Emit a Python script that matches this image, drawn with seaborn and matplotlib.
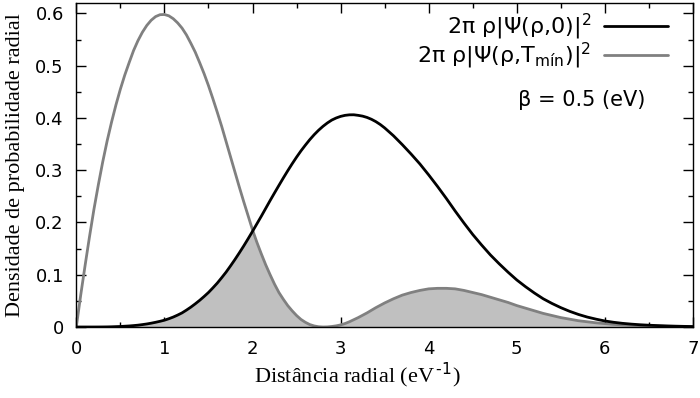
import numpy as np
import pandas as pd
import matplotlib
matplotlib.use("Agg")
import matplotlib.pyplot as plt
import seaborn as sns
from matplotlib.ticker import MultipleLocator

# radial distance samples (eV^-1)
rho = [0.0, 0.05, 0.1, 0.15, 0.2, 0.25, 0.3, 0.35, 0.4, 0.45,
       0.5, 0.55, 0.6, 0.65, 0.7, 0.75, 0.8, 0.85, 0.9, 0.95,
       1.0, 1.05, 1.1, 1.15, 1.2, 1.25, 1.3, 1.35, 1.4, 1.45,
       1.5, 1.55, 1.6, 1.65, 1.7, 1.75, 1.8, 1.85, 1.9, 1.95,
       2.0, 2.05, 2.1, 2.15, 2.2, 2.25, 2.3, 2.35, 2.4, 2.45,
       2.5, 2.55, 2.6, 2.65, 2.7, 2.75, 2.8, 2.85, 2.9, 2.95,
       3.0, 3.05, 3.1, 3.15, 3.2, 3.25, 3.3, 3.35, 3.4, 3.45,
       3.5, 3.6, 3.7, 3.8, 3.9,
       4.0, 4.1, 4.2, 4.3, 4.4, 4.5, 4.6, 4.7, 4.8, 4.9,
       5.0, 5.1, 5.2, 5.3, 5.4, 5.5, 5.6, 5.7, 5.8, 5.9,
       6.0, 6.1, 6.2, 6.3, 6.4, 6.5, 6.6, 6.7, 6.8, 6.9, 7.0]

# 2*pi*rho*|Psi(rho,0)|^2  (black)
dens_t0 = [0.0, 0.0, 0.0, 0.0, 0.0, 0.00003, 0.0001, 0.0002, 0.0004, 0.0007,
           0.001, 0.0015, 0.002, 0.0027, 0.0035, 0.0046, 0.0058, 0.0073, 0.009, 0.0109,
           0.013, 0.0158, 0.019, 0.0228, 0.027, 0.0323, 0.038, 0.0443, 0.051, 0.0583,
           0.066, 0.0748, 0.084, 0.0943, 0.105, 0.1168, 0.129, 0.1418, 0.155, 0.1688,
           0.183, 0.1975, 0.212, 0.227, 0.242, 0.2566, 0.271, 0.2852, 0.299, 0.3123,
           0.325, 0.337, 0.348, 0.3585, 0.368, 0.3765, 0.384, 0.3905, 0.396, 0.4,
           0.403, 0.405, 0.406, 0.4061, 0.405, 0.4035, 0.401, 0.3975, 0.393, 0.3875,
           0.381, 0.366, 0.349, 0.331, 0.312,
           0.291, 0.269, 0.246, 0.222, 0.199, 0.177, 0.157, 0.138, 0.121, 0.105,
           0.090, 0.077, 0.065, 0.054, 0.045, 0.037, 0.030, 0.024, 0.019, 0.015,
           0.0115, 0.009, 0.007, 0.0055, 0.0043, 0.0034, 0.0027, 0.0021, 0.0016, 0.0012, 0.0009]

# 2*pi*rho*|Psi(rho,T_min)|^2  (gray)
dens_tmin = [0.0, 0.061, 0.118, 0.173, 0.225, 0.272, 0.316, 0.356, 0.392, 0.425,
             0.455, 0.482, 0.506, 0.529, 0.548, 0.564, 0.577, 0.587, 0.594, 0.5976,
             0.598, 0.5955, 0.590, 0.582, 0.572, 0.559, 0.543, 0.526, 0.506, 0.485,
             0.462, 0.437, 0.411, 0.384, 0.355, 0.326, 0.297, 0.268, 0.240, 0.213,
             0.186, 0.162, 0.140, 0.119, 0.100, 0.082, 0.066, 0.053, 0.041, 0.031,
             0.022, 0.0145, 0.009, 0.0047, 0.002, 0.0005, 0.0, 0.0002, 0.001, 0.0022,
             0.004, 0.0066, 0.010, 0.014, 0.018, 0.0225, 0.027, 0.032, 0.037, 0.0415,
             0.046, 0.054, 0.061, 0.066, 0.070,
             0.073, 0.074, 0.074, 0.073, 0.070, 0.066, 0.062, 0.057, 0.052, 0.047,
             0.041, 0.036, 0.031, 0.026, 0.022, 0.018, 0.015, 0.012, 0.010, 0.008,
             0.0065, 0.005, 0.004, 0.0033, 0.0026, 0.002, 0.0016, 0.0012, 0.0009, 0.0006, 0.0004]

label_t0 = r'2π ρ|Ψ(ρ,0)|$^2$'
label_tmin = r'2π ρ|Ψ(ρ,T$_{\mathrm{mín}}$)|$^2$'
beta_text = 'β = 0.5 (eV)'
xlabel = 'Distância radial (eV$^{\\,\\text{-}1}$)'
ylabel = 'Densidade de probabilidade radial'

sns.set_style("ticks")
plt.rcParams['font.family'] = ['DejaVu Sans']
plt.rcParams['mathtext.fontset'] = 'dejavusans'
for k in ['text.color', 'axes.labelcolor', 'xtick.color', 'ytick.color', 'axes.edgecolor']:
    plt.rcParams[k] = 'black'

fig = plt.figure(figsize=(7.0, 3.98), dpi=100)
ax = fig.add_axes([76.3/700, 1-327/398, (693-76.3)/700, 324/398])

df = pd.DataFrame({'rho': rho, 't0': dens_t0, 'tmin': dens_tmin})
overlap = np.minimum(df['t0'].to_numpy(), df['tmin'].to_numpy())
ax.fill_between(df['rho'], 0, overlap, color='#c0c0c0', linewidth=0, zorder=1)

sns.lineplot(data=df, x='rho', y='t0', ax=ax, color='black', linewidth=2.0,
             label=label_t0, zorder=3, solid_joinstyle='round')
sns.lineplot(data=df, x='rho', y='tmin', ax=ax, color='#808080', linewidth=2.0,
             label=label_tmin, zorder=2, solid_joinstyle='round')

ax.set_xlim(0, 7)
ax.set_ylim(0, 0.62)
ax.xaxis.set_minor_locator(MultipleLocator(0.5))
ax.yaxis.set_minor_locator(MultipleLocator(0.05))
ax.set_xticks([0, 1, 2, 3, 4, 5, 6, 7])
ax.set_xticklabels(['0', '1', '2', '3', '4', '5', '6', '7'])
ax.set_yticks([0, 0.1, 0.2, 0.3, 0.4, 0.5, 0.6])
ax.set_yticklabels(['0', '0.1', '0.2', '0.3', '0.4', '0.5', '0.6'])

ax.tick_params(which='both', direction='in', top=True, right=True,
               color='black', width=1.0)
ax.tick_params(which='major', length=7, labelsize=13, pad=9)
ax.tick_params(which='minor', length=3.8)
for s in ax.spines.values():
    s.set_visible(True)
    s.set_linewidth(1.0)
    s.set_color('black')

ax.set_xlabel(xlabel, family='Liberation Serif', fontsize=16)
ax.set_ylabel(ylabel, family='Liberation Serif', fontsize=16)
ax.xaxis.set_label_coords((357-76.3)/616.7, -0.105)
ax.yaxis.set_label_coords(-0.083, 0.5)

leg = ax.legend(loc='upper right', bbox_to_anchor=((668-76.3)/616.7, (327-12)/324),
                frameon=False, markerfirst=False, fontsize=16,
                handlelength=2.9, handletextpad=0.55, labelspacing=-0.05,
                borderpad=0, borderaxespad=0)
for t in leg.get_texts():
    t.set_ha('right')

ax.text((645-76.3)/616.7, (327-100)/324, beta_text, transform=ax.transAxes,
        ha='right', va='center', fontsize=15)

fig.savefig('out.png', dpi=100)
